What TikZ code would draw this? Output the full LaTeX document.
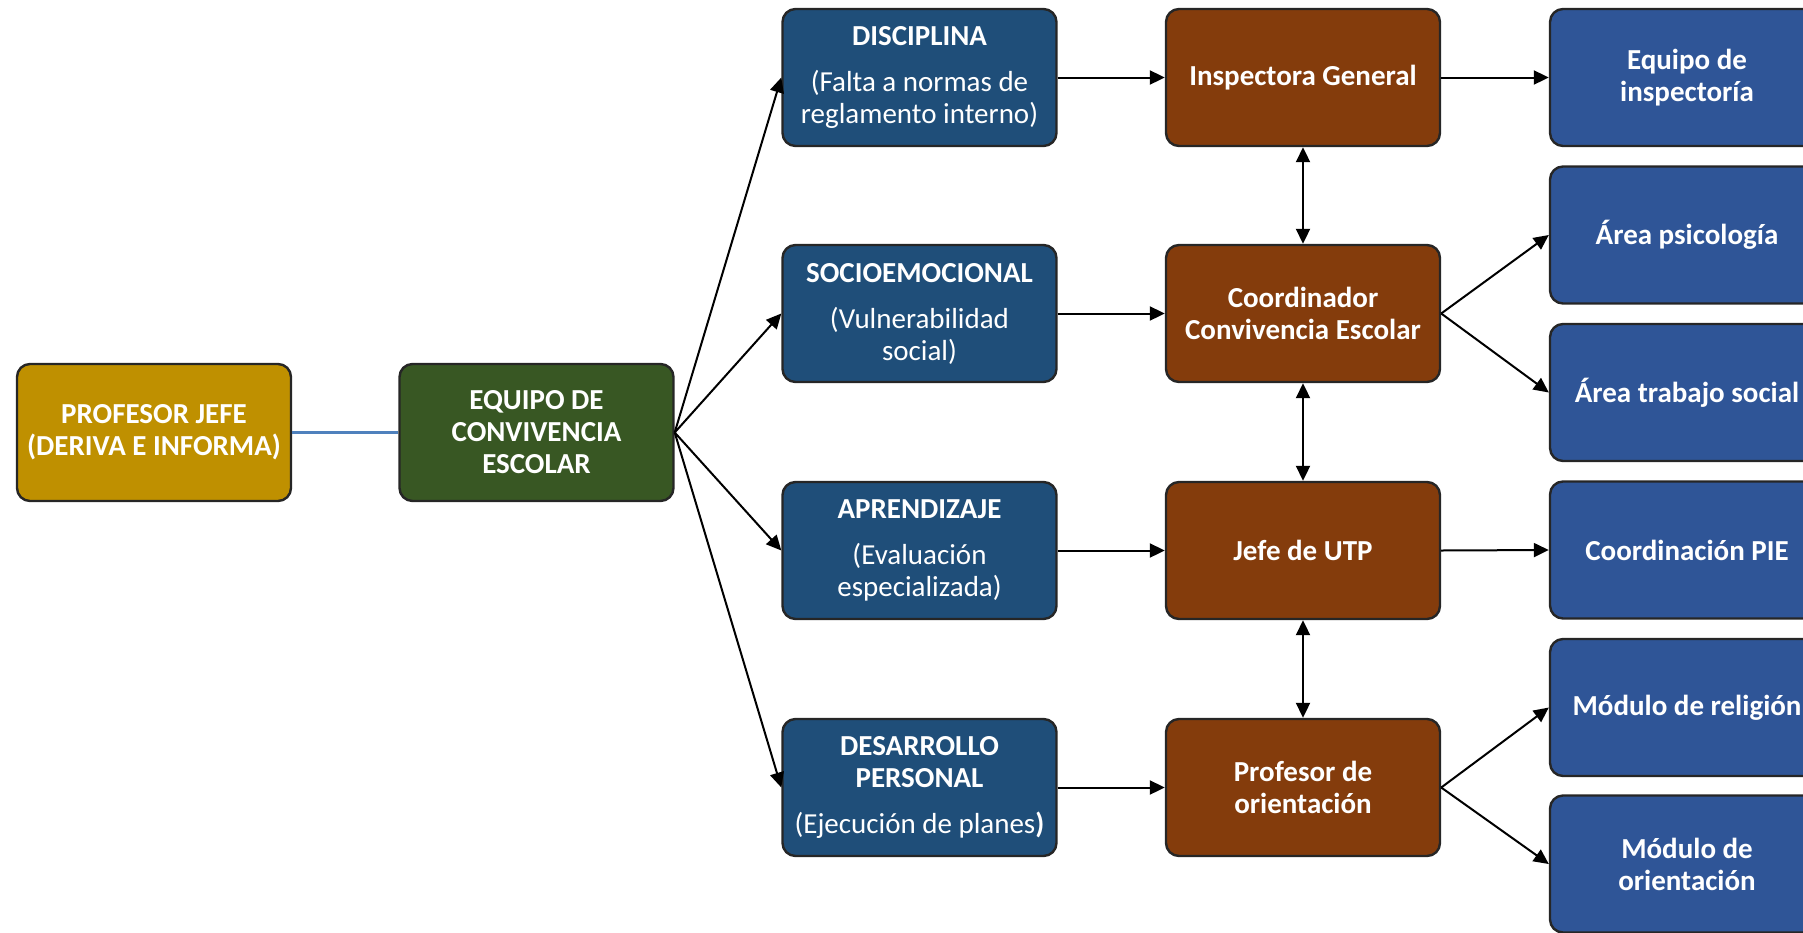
\documentclass[tikz,border=0pt]{standalone}
\usepackage{fontspec}
\setmainfont{Carlito}
\usetikzlibrary{arrows.meta}
\definecolor{cgold}{HTML}{BF9000}
\definecolor{cgreen}{HTML}{385723}
\definecolor{cblue}{HTML}{1F4E79}
\definecolor{cbrown}{HTML}{843C0C}
\definecolor{cright}{HTML}{2F5597}
\definecolor{cborder}{HTML}{262626}
\definecolor{cline}{HTML}{4F81BD}
\begin{document}
\begin{tikzpicture}[x=1pt,y=-1pt,
  boxbase/.style={draw=cborder, line width=2.4pt, rounded corners=13pt,
    minimum width=274pt, minimum height=137pt, inner sep=0pt, align=center,
    text=white, font=\fontsize{29}{32}\selectfont},
  goldbox/.style={boxbase, fill=cgold, font=\fontsize{29}{32}\selectfont\bfseries},
  greenbox/.style={boxbase, fill=cgreen, font=\fontsize{29}{32}\selectfont\bfseries},
  bluebox/.style={boxbase, fill=cblue},
  brownbox/.style={boxbase, fill=cbrown, font=\fontsize{29}{32}\selectfont\bfseries},
  rightbox/.style={boxbase, fill=cright, font=\fontsize{29}{32}\selectfont\bfseries},
  arr/.style={draw=black, line width=2pt, -{Triangle[length=15pt,width=14pt]}},
  darr/.style={draw=black, line width=2pt, {Triangle[length=15pt,width=14pt]}-{Triangle[length=15pt,width=14pt]}}
]
\useasboundingbox (0,0) rectangle (1803,932);
\clip (0,0) rectangle (1803,932);

\node[goldbox] (prof) at (154,432.5) {PROFESOR JEFE\\(DERIVA E INFORMA)};
\node[greenbox] (equipo) at (536.5,432.5) {EQUIPO DE\\CONVIVENCIA\\ESCOLAR};

\node[bluebox] (disc) at (919.5,77.5) {\textbf{DISCIPLINA}\\[14pt](Falta a normas de\\reglamento interno)};
\node[bluebox] (socio) at (919.5,313.5) {\textbf{SOCIOEMOCIONAL}\\[14pt](Vulnerabilidad\\social)};
\node[bluebox] (apre) at (919.5,550.5) {\textbf{APRENDIZAJE}\\[14pt](Evaluación\\especializada)};
\node[bluebox] (desa) at (919.5,787.5) {\textbf{DESARROLLO}\\\textbf{PERSONAL}\\[14pt](Ejecución de planes\textbf{)}};

\node[brownbox] (insp) at (1303,77.5) {Inspectora General};
\node[brownbox] (coord) at (1303,313.5) {Coordinador\\Convivencia Escolar};
\node[brownbox] (utp) at (1303,550.5) {Jefe de UTP};
\node[brownbox] (orie) at (1303,787.5) {Profesor de\\orientación};

\node[rightbox] (eqins) at (1687,77.5) {Equipo de\\inspectoría};
\node[rightbox] (psico) at (1687,235) {Área psicología};
\node[rightbox] (trab) at (1687,392.5) {Área trabajo social};
\node[rightbox] (pie) at (1687,550) {Coordinación PIE};
\node[rightbox] (reli) at (1687,707.5) {Módulo de religión};
\node[rightbox] (morie) at (1687,864) {Módulo de\\orientación};

\draw[draw=cline, line width=2.4pt] (prof.east) -- (equipo.west);

\draw[arr] (equipo.east) -- (disc.west);
\draw[arr] (equipo.east) -- (socio.west);
\draw[arr] (equipo.east) -- (apre.west);
\draw[arr] (equipo.east) -- (desa.west);

\draw[arr] (disc.east) -- (insp.west);
\draw[arr] (socio.east) -- (coord.west);
\draw[arr] (apre.east) -- (utp.west);
\draw[arr] (desa.east) -- (orie.west);

\draw[arr] (insp.east) -- (eqins.west);
\draw[arr] (coord.east) -- (psico.west);
\draw[arr] (coord.east) -- (trab.west);
\draw[arr] (utp.east) -- (pie.west);
\draw[arr] (orie.east) -- (reli.west);
\draw[arr] (orie.east) -- (morie.west);

\draw[darr] (insp.south) -- (coord.north);
\draw[darr] (coord.south) -- (utp.north);
\draw[darr] (utp.south) -- (orie.north);
\end{tikzpicture}
\end{document}
